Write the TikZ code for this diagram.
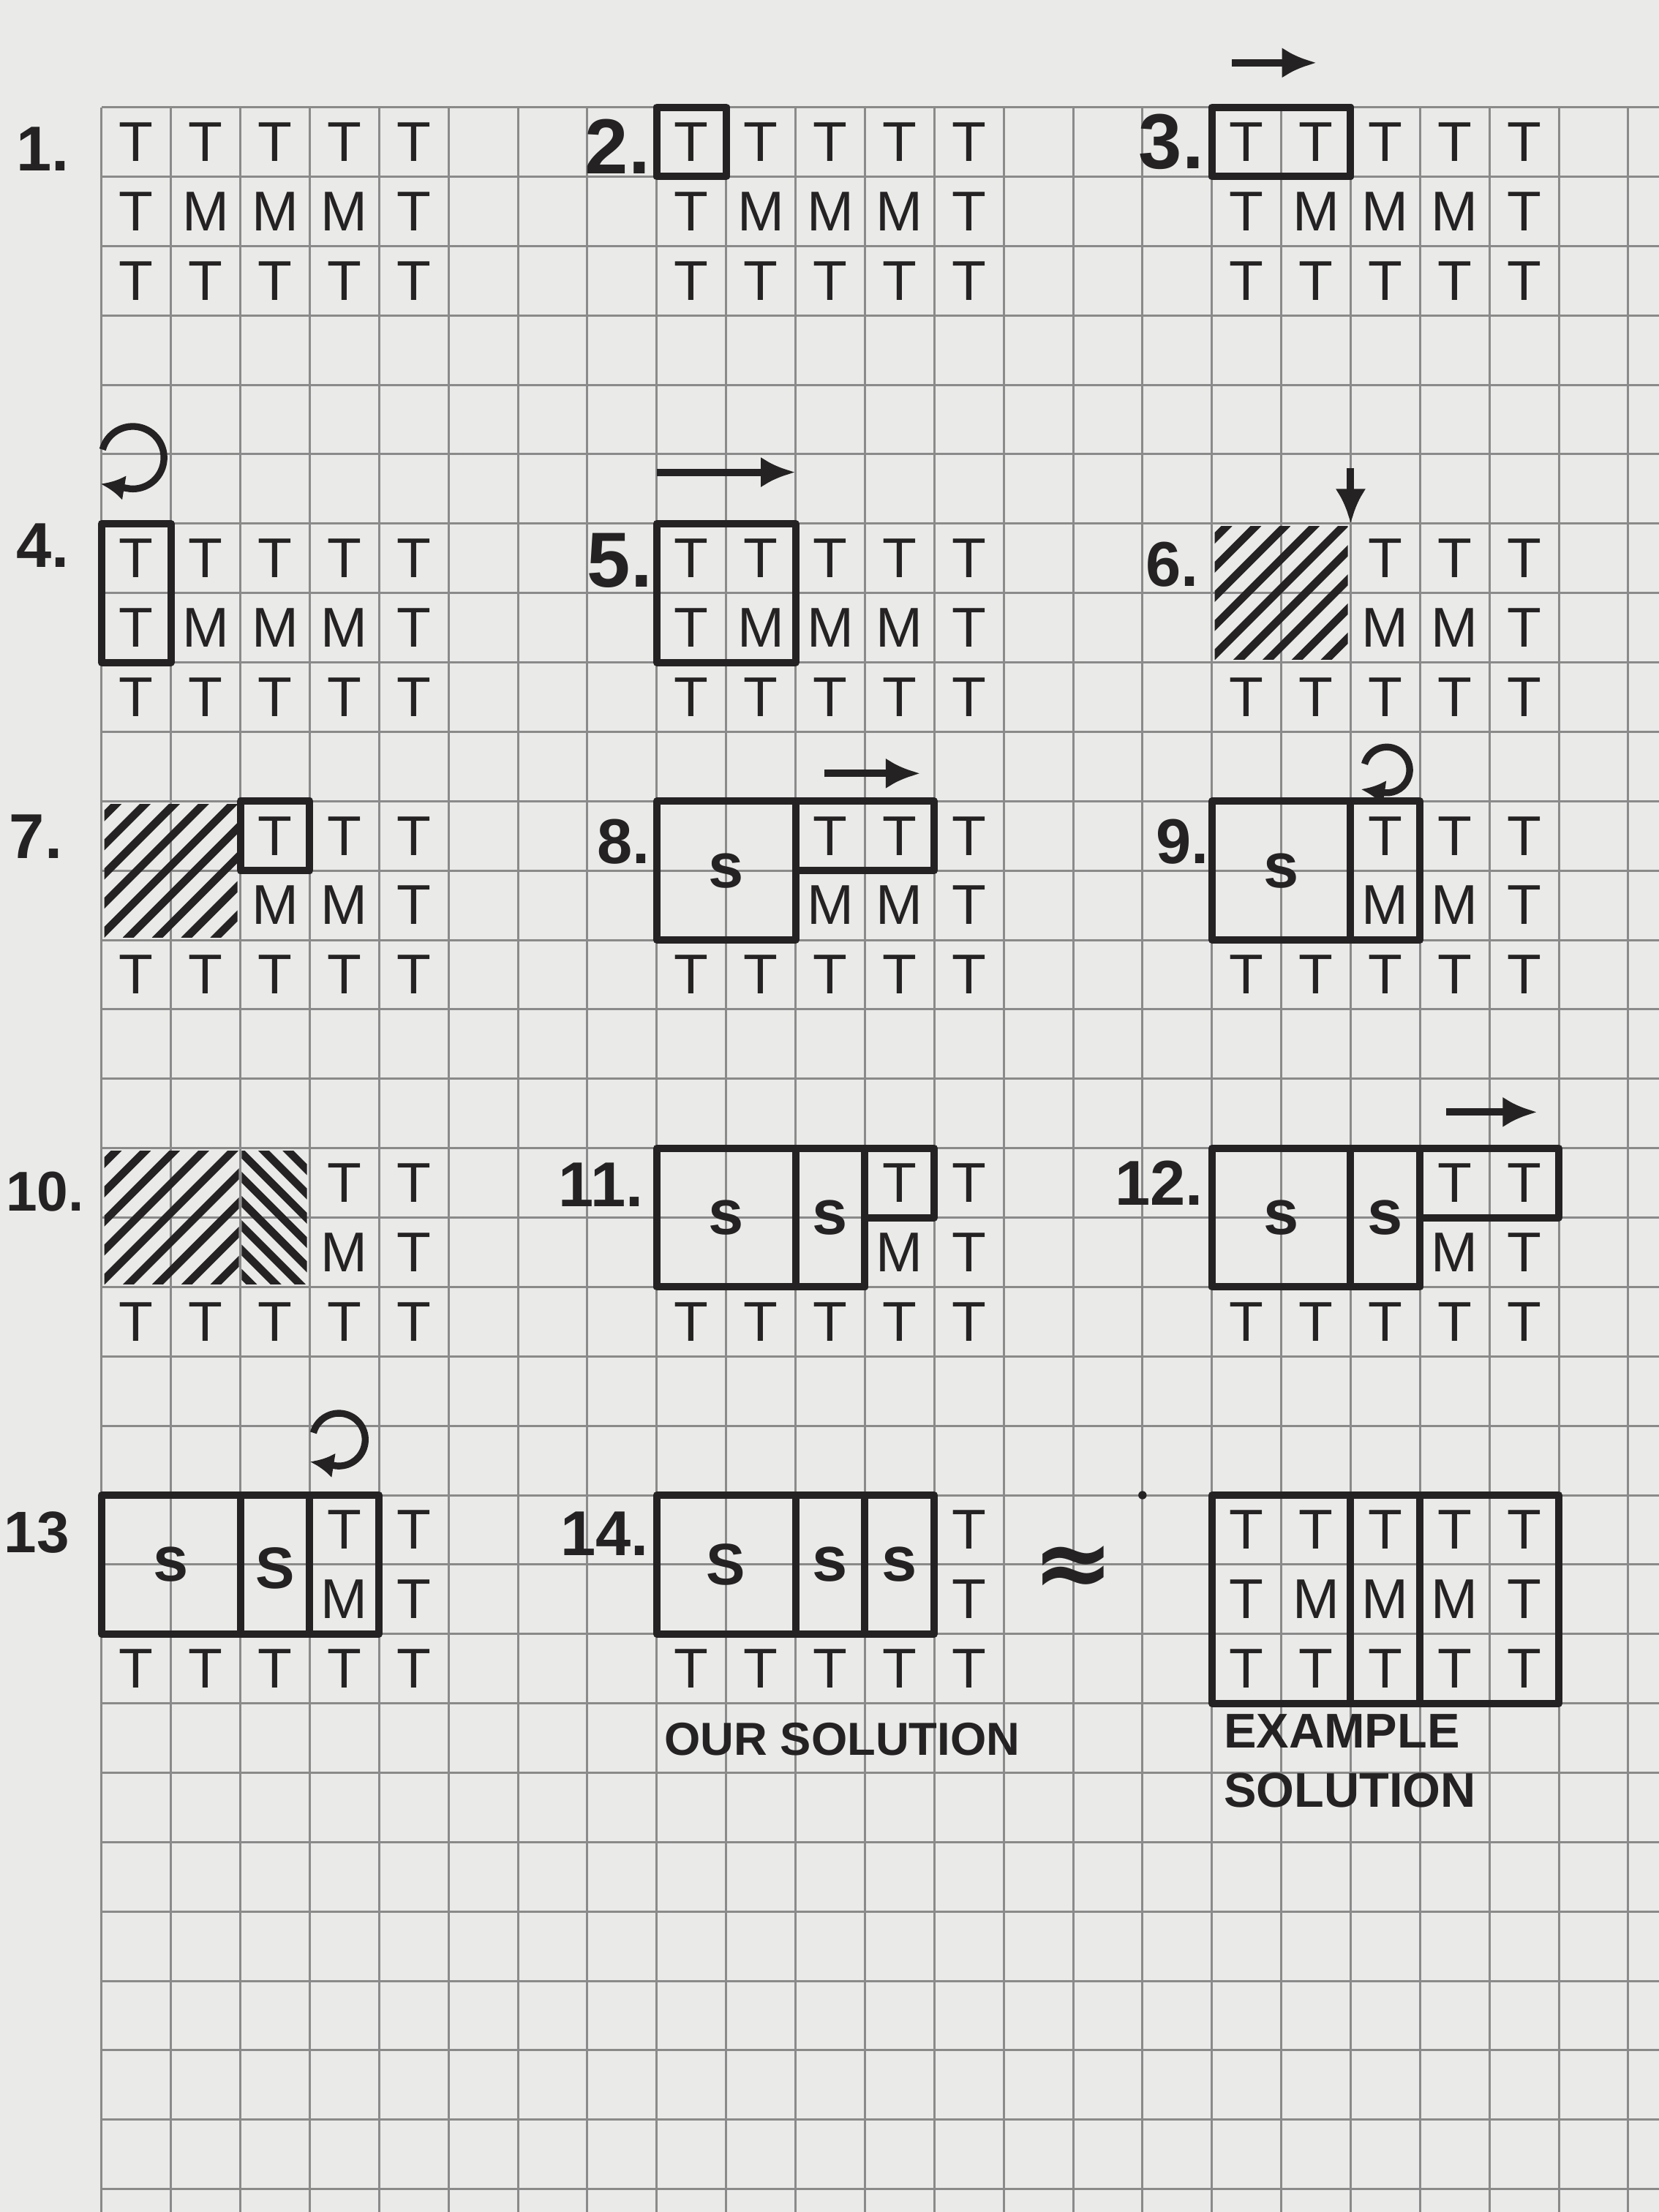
\documentclass[tikz,border=0pt]{standalone}
\usepackage{fontspec}
\setmainfont{Liberation Sans}
\newfontfamily\wavyfont{DejaVu Sans}
\usetikzlibrary{arrows.meta}
\definecolor{paper}{RGB}{234,234,232}
\definecolor{rule}{RGB}{138,138,138}
\definecolor{ink}{RGB}{36,34,34}

\begin{document}
\begin{tikzpicture}[x=0.5cm,y=0.5cm,
    gridline/.style={draw=rule,line width=0.45pt},
    wall/.style={draw=ink,line width=1.5pt,line join=round},
    hatch/.style={draw=ink,line width=1.6pt,line cap=round},
    ltr/.style={text=ink,inner sep=0pt,font=\fontsize{11.5}{12}\selectfont},
    sletter/.style={text=ink,inner sep=0pt,font=\fontsize{13}{14}\selectfont\bfseries},
    num/.style={text=ink,inner sep=0pt,anchor=east,font=\fontsize{13}{14}\selectfont\bfseries},
    bignum/.style={num,font=\fontsize{16}{18}\selectfont\bfseries},
    caption/.style={text=ink,inner sep=0pt,anchor=west,font=\fontsize{10}{12}\selectfont\bfseries},
    push/.style={draw=ink,line width=1.5pt,-{Latex[length=2.5mm,width=2.2mm]}},
    spin/.style={draw=ink,line width=1.4pt,line join=round,-{Latex[length=1.7mm,width=1.8mm]}}]

  \useasboundingbox (-1.463,1.545) rectangle (22.44,-30.33);
  \fill[paper] (-1.463,1.545) rectangle (22.44,-30.33);
  \draw[gridline,step=1] (0,-30.4) grid (22.5,0);

  % 1.
  \begin{scope}
    \node[num] (n1) at (-0.45,-0.6) {1.};
    \foreach \l [count=\i from 0] in {T,T,T,T,T} \node[ltr] (p1t\i) at (\i+0.5,-0.5) {\l};
    \foreach \l [count=\i from 0] in {T,M,M,M,T} \node[ltr] (p1m\i) at (\i+0.5,-1.5) {\l};
    \foreach \l [count=\i from 0] in {T,T,T,T,T} \node[ltr] (p1b\i) at (\i+0.5,-2.5) {\l};
  \end{scope}

  % 2.
  \begin{scope}[shift={(8,0)}]
    \node[bignum] (n2) at (-0.08,-0.57) {2.};
    \draw[wall] (0,0) rectangle (1,-1);
    \foreach \l [count=\i from 0] in {T,T,T,T,T} \node[ltr] (p2t\i) at (\i+0.5,-0.5) {\l};
    \foreach \l [count=\i from 0] in {T,M,M,M,T} \node[ltr] (p2m\i) at (\i+0.5,-1.5) {\l};
    \foreach \l [count=\i from 0] in {T,T,T,T,T} \node[ltr] (p2b\i) at (\i+0.5,-2.5) {\l};
  \end{scope}

  % 3.
  \begin{scope}[shift={(16,0)}]
    \node[bignum] (n3) at (-0.1,-0.5) {3.};
    \draw[wall] (0,0) rectangle (2,-1);
    \coordinate (p3s) at (0.29,0.64);
    \coordinate (p3e) at (1.51,0.64);
    \draw[push] (p3s) -- (p3e);
    \foreach \l [count=\i from 0] in {T,T,T,T,T} \node[ltr] (p3t\i) at (\i+0.5,-0.5) {\l};
    \foreach \l [count=\i from 0] in {T,M,M,M,T} \node[ltr] (p3m\i) at (\i+0.5,-1.5) {\l};
    \foreach \l [count=\i from 0] in {T,T,T,T,T} \node[ltr] (p3b\i) at (\i+0.5,-2.5) {\l};
  \end{scope}

  % 4.
  \begin{scope}[shift={(0,-6)}]
    \node[num] (n4) at (-0.45,-0.32) {4.};
    \draw[wall] (0,0) rectangle (1,-2);
    \coordinate (p4c) at (0.45,0.95);
    \draw[spin] ([shift={(165:0.45)}]p4c) arc[start angle=165,end angle=-95,radius=0.45] -- ++(-0.42,0.07);
    \foreach \l [count=\i from 0] in {T,T,T,T,T} \node[ltr] (p4t\i) at (\i+0.5,-0.5) {\l};
    \foreach \l [count=\i from 0] in {T,M,M,M,T} \node[ltr] (p4m\i) at (\i+0.5,-1.5) {\l};
    \foreach \l [count=\i from 0] in {T,T,T,T,T} \node[ltr] (p4b\i) at (\i+0.5,-2.5) {\l};
  \end{scope}

  % 5.
  \begin{scope}[shift={(8,-6)}]
    \node[bignum] (n5) at (-0.05,-0.53) {5.};
    \draw[wall] (0,0) rectangle (2,-2);
    \coordinate (p5s) at (0,0.74);
    \coordinate (p5e) at (2,0.74);
    \draw[push] (p5s) -- (p5e);
    \foreach \l [count=\i from 0] in {T,T,T,T,T} \node[ltr] (p5t\i) at (\i+0.5,-0.5) {\l};
    \foreach \l [count=\i from 0] in {T,M,M,M,T} \node[ltr] (p5m\i) at (\i+0.5,-1.5) {\l};
    \foreach \l [count=\i from 0] in {T,T,T,T,T} \node[ltr] (p5b\i) at (\i+0.5,-2.5) {\l};
  \end{scope}

  % 6.
  \begin{scope}[shift={(16,-6)}]
    \node[num] (n6) at (-0.18,-0.59) {6.};
    \begin{scope}
      \clip (0.04,-0.04) rectangle (1.96,-1.96);
      \foreach \k in {0.25,0.67,...,3.8} \draw[hatch] (\k-2,-2) -- (\k,0);
    \end{scope}
    \coordinate (p6s) at (2,0.8);
    \coordinate (p6e) at (2,0);
    \draw[push] (p6s) -- (p6e);
    \foreach \l [count=\i from 2] in {T,T,T} \node[ltr] (p6t\i) at (\i+0.5,-0.5) {\l};
    \foreach \l [count=\i from 2] in {M,M,T} \node[ltr] (p6m\i) at (\i+0.5,-1.5) {\l};
    \foreach \l [count=\i from 0] in {T,T,T,T,T} \node[ltr] (p6b\i) at (\i+0.5,-2.5) {\l};
  \end{scope}

  % 7.
  \begin{scope}[shift={(0,-10)}]
    \node[num] (n7) at (-0.55,-0.51) {7.};
    \begin{scope}
      \clip (0.04,-0.04) rectangle (1.96,-1.96);
      \foreach \k in {0.25,0.67,...,3.8} \draw[hatch] (\k-2,-2) -- (\k,0);
    \end{scope}
    \draw[wall] (2,0) rectangle (3,-1);
    \foreach \l [count=\i from 2] in {T,T,T} \node[ltr] (p7t\i) at (\i+0.5,-0.5) {\l};
    \foreach \l [count=\i from 2] in {M,M,T} \node[ltr] (p7m\i) at (\i+0.5,-1.5) {\l};
    \foreach \l [count=\i from 0] in {T,T,T,T,T} \node[ltr] (p7b\i) at (\i+0.5,-2.5) {\l};
  \end{scope}

  % 8.
  \begin{scope}[shift={(8,-10)}]
    \node[num] (n8) at (-0.08,-0.58) {8.};
    \draw[wall] (0,0) rectangle (2,-2);
    \draw[wall] (2,0) rectangle (4,-1);
    \node[sletter] (p8s) at (1,-1) {s};
    \coordinate (p8a) at (2.42,0.4);
    \coordinate (p8b) at (3.8,0.4);
    \draw[push] (p8a) -- (p8b);
    \foreach \l [count=\i from 2] in {T,T,T} \node[ltr] (p8t\i) at (\i+0.5,-0.5) {\l};
    \foreach \l [count=\i from 2] in {M,M,T} \node[ltr] (p8m\i) at (\i+0.5,-1.5) {\l};
    \foreach \l [count=\i from 0] in {T,T,T,T,T} \node[ltr] (p8b\i) at (\i+0.5,-2.5) {\l};
  \end{scope}

  % 9.
  \begin{scope}[shift={(16,-10)}]
    \node[num] (n9) at (-0.03,-0.58) {9.};
    \draw[wall] (0,0) rectangle (2,-2);
    \draw[wall] (2,0) rectangle (3,-2);
    \node[sletter] (p9s) at (1,-1) {s};
    \coordinate (p9c) at (2.52,0.45);
    \draw[spin] ([shift={(165:0.33)}]p9c) arc[start angle=165,end angle=-95,radius=0.33] -- ++(-0.34,0.05);
    \foreach \l [count=\i from 2] in {T,T,T} \node[ltr] (p9t\i) at (\i+0.5,-0.5) {\l};
    \foreach \l [count=\i from 2] in {M,M,T} \node[ltr] (p9m\i) at (\i+0.5,-1.5) {\l};
    \foreach \l [count=\i from 0] in {T,T,T,T,T} \node[ltr] (p9b\i) at (\i+0.5,-2.5) {\l};
  \end{scope}

  % 10.
  \begin{scope}[shift={(0,-15)}]
    \node[num,font=\fontsize{11.5}{13}\selectfont\bfseries] (n10) at (-0.24,-0.63) {10.};
    \begin{scope}
      \clip (0.04,-0.04) rectangle (1.98,-1.96);
      \foreach \k in {0.25,0.67,...,3.8} \draw[hatch] (\k-2,-2) -- (\k,0);
    \end{scope}
    \begin{scope}
      \clip (2.02,-0.04) rectangle (2.96,-1.96);
      \foreach \k in {0.2,0.55,...,3} \draw[hatch] (\k,0) -- (\k+2,-2);
    \end{scope}
    \foreach \l [count=\i from 3] in {T,T} \node[ltr] (p10t\i) at (\i+0.5,-0.5) {\l};
    \foreach \l [count=\i from 3] in {M,T} \node[ltr] (p10m\i) at (\i+0.5,-1.5) {\l};
    \foreach \l [count=\i from 0] in {T,T,T,T,T} \node[ltr] (p10b\i) at (\i+0.5,-2.5) {\l};
  \end{scope}

  % 11.
  \begin{scope}[shift={(8,-15)}]
    \node[num] (n11) at (-0.18,-0.53) {11.};
    \draw[wall] (0,0) rectangle (2,-2);
    \draw[wall] (2,0) rectangle (3,-2);
    \draw[wall] (3,0) rectangle (4,-1);
    \node[sletter] (p11s) at (1,-1) {s};
    \node[sletter] (p11r) at (2.5,-1) {s};
    \foreach \l [count=\i from 3] in {T,T} \node[ltr] (p11t\i) at (\i+0.5,-0.5) {\l};
    \foreach \l [count=\i from 3] in {M,T} \node[ltr] (p11m\i) at (\i+0.5,-1.5) {\l};
    \foreach \l [count=\i from 0] in {T,T,T,T,T} \node[ltr] (p11b\i) at (\i+0.5,-2.5) {\l};
  \end{scope}

  % 12.
  \begin{scope}[shift={(16,-15)}]
    \node[num] (n12) at (-0.11,-0.5) {12.};
    \draw[wall] (0,0) rectangle (2,-2);
    \draw[wall] (2,0) rectangle (3,-2);
    \draw[wall] (3,0) rectangle (5,-1);
    \node[sletter] (p12s) at (1,-1) {s};
    \node[sletter] (p12r) at (2.5,-1) {s};
    \coordinate (p12a) at (3.38,0.52);
    \coordinate (p12b) at (4.69,0.52);
    \draw[push] (p12a) -- (p12b);
    \foreach \l [count=\i from 3] in {T,T} \node[ltr] (p12t\i) at (\i+0.5,-0.5) {\l};
    \foreach \l [count=\i from 3] in {M,T} \node[ltr] (p12m\i) at (\i+0.5,-1.5) {\l};
    \foreach \l [count=\i from 0] in {T,T,T,T,T} \node[ltr] (p12b\i) at (\i+0.5,-2.5) {\l};
  \end{scope}

  % 13
  \begin{scope}[shift={(0,-20)}]
    \node[num,font=\fontsize{12}{13}\selectfont\bfseries] (n13) at (-0.45,-0.54) {13};
    \draw[wall] (0,0) rectangle (2,-2);
    \draw[wall] (2,0) rectangle (3,-2);
    \draw[wall] (3,0) rectangle (4,-2);
    \node[sletter] (p13s) at (1,-1) {s};
    \node[sletter,font=\fontsize{12}{14}\selectfont\bfseries] (p13r) at (2.5,-1.05) {S};
    \coordinate (p13c) at (3.42,0.8);
    \draw[spin] ([shift={(165:0.38)}]p13c) arc[start angle=165,end angle=-95,radius=0.38] -- ++(-0.38,0.06);
    \foreach \l [count=\i from 3] in {T,T} \node[ltr] (p13t\i) at (\i+0.5,-0.5) {\l};
    \foreach \l [count=\i from 3] in {M,T} \node[ltr] (p13m\i) at (\i+0.5,-1.5) {\l};
    \foreach \l [count=\i from 0] in {T,T,T,T,T} \node[ltr] (p13b\i) at (\i+0.5,-2.5) {\l};
  \end{scope}

  % 14.
  \begin{scope}[shift={(8,-20)}]
    \node[num] (n14) at (-0.1,-0.56) {14.};
    \draw[wall] (0,0) rectangle (2,-2);
    \draw[wall] (2,0) rectangle (3,-2);
    \draw[wall] (3,0) rectangle (4,-2);
    \node[sletter,font=\fontsize{12}{14}\selectfont\bfseries] (p14s) at (1,-1) {S};
    \node[sletter] (p14r) at (2.5,-1) {s};
    \node[sletter] (p14q) at (3.5,-1) {s};
    \node[ltr] (p14t4) at (4.5,-0.5) {T};
    \node[ltr] (p14m4) at (4.5,-1.5) {T};
    \foreach \l [count=\i from 0] in {T,T,T,T,T} \node[ltr] (p14b\i) at (\i+0.5,-2.5) {\l};
    \node[caption,font=\fontsize{9.5}{12}\selectfont\bfseries] (ours) at (0.1,-3.52) {OUR SOLUTION};
    \node[text=ink,inner sep=0pt,font=\wavyfont\bfseries\fontsize{20}{20}\selectfont] (apx) at (6.0,-1.1) {≈};
  \end{scope}

  % example solution
  \begin{scope}[shift={(16,-20)}]
    \fill[ink] (-1,0) circle[radius=0.06];
    \draw[wall] (0,0) rectangle (5,-3);
    \draw[wall] (2,0) -- (2,-3);
    \draw[wall] (3,0) -- (3,-3);
    \foreach \l [count=\i from 0] in {T,T,T,T,T} \node[ltr] (ext\i) at (\i+0.5,-0.5) {\l};
    \foreach \l [count=\i from 0] in {T,M,M,M,T} \node[ltr] (exm\i) at (\i+0.5,-1.5) {\l};
    \foreach \l [count=\i from 0] in {T,T,T,T,T} \node[ltr] (exb\i) at (\i+0.5,-2.5) {\l};
    \node[caption] (exa) at (0.16,-3.4) {EXAMPLE};
    \node[caption] (exs) at (0.16,-4.25) {SOLUTION};
  \end{scope}

\end{tikzpicture}
\end{document}
